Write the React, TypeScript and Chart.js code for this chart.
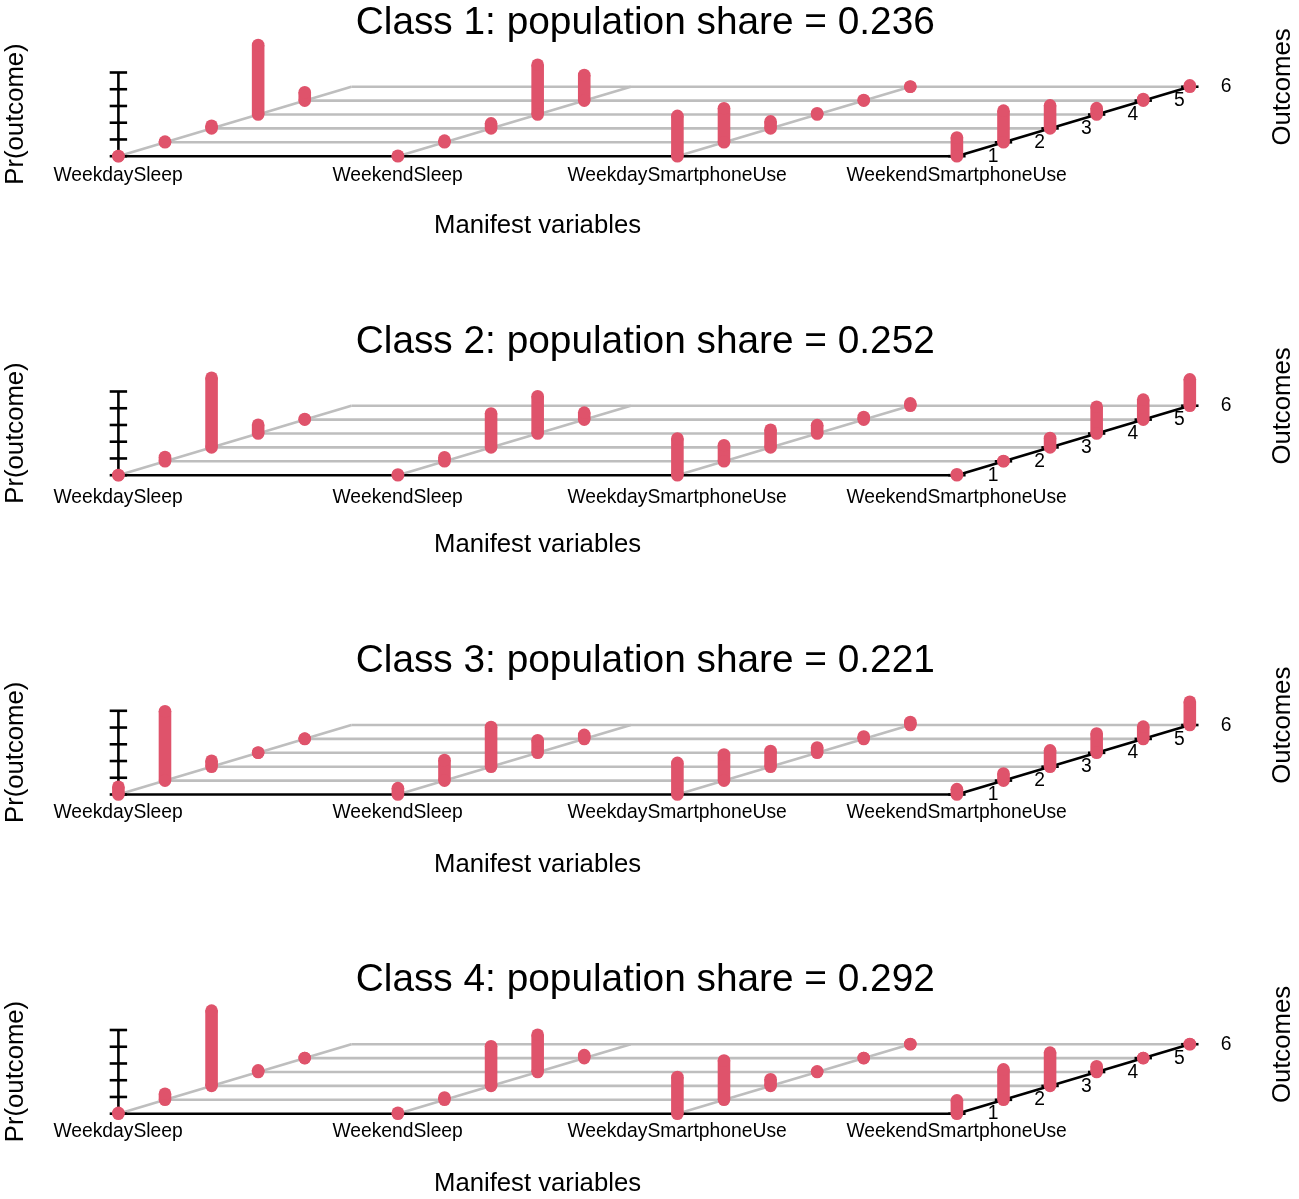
import React, { useEffect, useRef } from "react";
import { Chart, registerables } from "chart.js";

Chart.register(...registerables);

const variables = ["WeekdaySleep", "WeekendSleep", "WeekdaySmartphoneUse", "WeekendSmartphoneUse"];
const outcomeLabels = ["1", "2", "3", "4", "5", "6"];
const probTicks = [0, 0.2, 0.4, 0.6, 0.8, 1];
const populationShares = ["0.236", "0.252", "0.221", "0.292"];

const class1WeekdaySleep = [0.003, 0.008, 0.032, 0.83, 0.1];
const class1WeekendSleep = [0.005, 0.02, 0.06, 0.594, 0.307];
const class1WeekdayPhone = [0.482, 0.406, 0.084, 0.016, 0.008, 0.002];
const class1WeekendPhone = [0.223, 0.378, 0.275, 0.076, 0.02, 0.016];

const class2WeekdaySleep = [0.002, 0.052, 0.833, 0.104, 0.008];
const class2WeekendSleep = [0.008, 0.048, 0.406, 0.446, 0.084];
const class2WeekdayPhone = [0.438, 0.191, 0.211, 0.1, 0.032, 0.028];
const class2WeekendPhone = [0.012, 0.004, 0.112, 0.319, 0.239, 0.315];

const class3WeekdaySleep = [0.092, 0.829, 0.072, 0.003, 0.004];
const class3WeekendSleep = [0.076, 0.247, 0.474, 0.151, 0.048];
const class3WeekdayPhone = [0.378, 0.311, 0.187, 0.064, 0.028, 0.036];
const class3WeekendPhone = [0.064, 0.084, 0.195, 0.231, 0.147, 0.279];

const class4WeekdaySleep = [0.01, 0.072, 0.9, 0.02, 0.001];
const class4WeekendSleep = [0.012, 0.028, 0.474, 0.446, 0.036];
const class4WeekdayPhone = [0.438, 0.47, 0.08, 0.008, 0.002, 0.002];
const class4WeekendPhone = [0.159, 0.363, 0.398, 0.068, 0.002, 0.002];

const classes = [
  [class1WeekdaySleep, class1WeekendSleep, class1WeekdayPhone, class1WeekendPhone],
  [class2WeekdaySleep, class2WeekendSleep, class2WeekdayPhone, class2WeekendPhone],
  [class3WeekdaySleep, class3WeekendSleep, class3WeekdayPhone, class3WeekendPhone],
  [class4WeekdaySleep, class4WeekendSleep, class4WeekdayPhone, class4WeekendPhone],
];

// layout
const WIDTH = 1299;
const HEIGHT = 319;
const panelTops = [0, 319, 638, 958];
const panelBases = [156.2, 156.2, 156.5, 155.7];
const labelDrops = [19.8, 22.3, 18.3, 18.3];
const ORIGIN_X = 118.4;
const VAR_PX = 279.5;
const PROB_PX = 83.7;
const DEPTH_STEP = 0.166; // height of one outcome row, in probability units
const TICK_HALF = 8.7 / VAR_PX;
const FONT = '"Liberation Sans", Arial, Helvetica, sans-serif';
const RED = "#DF536B";
const GREY = "#BEBEBE";

const px = (v: number, o: number) => v + o / 6;
const py = (o: number, p = 0) => o * DEPTH_STEP + p;

function segment(a: any, b: any, color: string, width: number, order: number) {
  return {
    type: "line",
    data: [a, b],
    borderColor: color,
    backgroundColor: color,
    borderWidth: width,
    pointRadius: 0,
    order,
    parsing: false,
  };
}

function buildDatasets(probs: number[][]) {
  const ds: any[] = [];
  // grey floor
  for (let o = 1; o < 6; o++) {
    ds.push(segment({ x: px(0, o), y: py(o) }, { x: px(3, o), y: py(o) }, GREY, 2.6, 3));
  }
  for (let v = 0; v < 3; v++) {
    ds.push(segment({ x: px(v, 0), y: py(0) }, { x: px(v, 5), y: py(5) }, GREY, 2.6, 3));
  }
  // black axes
  ds.push(segment({ x: px(0, 0), y: 0 }, { x: px(3, 0), y: 0 }, "#000", 2.6, 2));
  ds.push(segment({ x: px(3, 0), y: py(0) }, { x: px(3, 5), y: py(5) }, "#000", 2.6, 2));
  for (let o = 0; o < 6; o++) {
    ds.push(
      segment(
        { x: px(3, o) - TICK_HALF, y: py(o) },
        { x: px(3, o) + TICK_HALF, y: py(o) },
        "#000",
        2.6,
        2
      )
    );
  }
  ds.push(segment({ x: 0, y: 0 }, { x: 0, y: 1 }, "#000", 2.6, 2));
  probTicks.forEach((t) => {
    ds.push(segment({ x: -TICK_HALF, y: t }, { x: TICK_HALF, y: t }, "#000", 2.6, 2));
  });
  // probability bars
  probs.forEach((row, v) => {
    row.forEach((p, o) => {
      ds.push({
        type: "line",
        data: [
          { x: px(v, o), y: py(o) },
          { x: px(v, o), y: py(o, p) },
        ],
        borderColor: RED,
        backgroundColor: RED,
        borderWidth: 12.6,
        pointRadius: 6.3,
        pointBorderWidth: 0,
        pointBackgroundColor: RED,
        order: 1,
        parsing: false,
      });
    });
  });
  return ds;
}

function textPlugin(index: number) {
  return {
    id: "labels" + index,
    afterDatasetsDraw(chart: any) {
      const { ctx, scales } = chart;
      const X = scales.x;
      const Y = scales.y;
      const base = Y.getPixelForValue(0);
      const put = (t: string, x: number, y: number, size: number, rot = 0) => {
        ctx.save();
        ctx.translate(x, y);
        ctx.rotate(rot);
        ctx.font = `${size}px ${FONT}`;
        ctx.fillStyle = "#000";
        ctx.textAlign = "center";
        ctx.textBaseline = "middle";
        ctx.fillText(t, 0, 0);
        ctx.restore();
      };
      put(`Class ${index + 1}: population share = ${populationShares[index]}`, 645.3, base - 133.3, 38.8);
      variables.forEach((name, v) => {
        put(name, X.getPixelForValue(px(v, 0)) - 0.3, base + labelDrops[index], 19.3);
      });
      outcomeLabels.forEach((lab, o) => {
        put(lab, X.getPixelForValue(px(3, o)) + 36.2, Y.getPixelForValue(py(o)) + 0.3, 19.3);
      });
      put("Manifest variables", 537.5, base + 70, 25.7);
      put("Pr(outcome)", 15.5, base - 42.2, 25.7, -Math.PI / 2);
      put("Outcomes", 1283, base - 69.2, 25.7, -Math.PI / 2);
    },
  };
}

function Panel({ index }: { index: number }) {
  const ref = useRef<HTMLCanvasElement | null>(null);
  useEffect(() => {
    const base = panelBases[index];
    const chart = new Chart(ref.current as HTMLCanvasElement, {
      type: "line",
      data: { datasets: buildDatasets(classes[index]) as any },
      plugins: [textPlugin(index)],
      options: {
        animation: false,
        responsive: false,
        devicePixelRatio: 1,
        layout: { padding: 0, autoPadding: false },
        plugins: { legend: { display: false }, title: { display: false }, tooltip: { enabled: false } },
        scales: {
          x: {
            type: "linear",
            display: false,
            min: -ORIGIN_X / VAR_PX,
            max: (WIDTH - ORIGIN_X) / VAR_PX,
          },
          y: {
            type: "linear",
            display: false,
            min: (base - HEIGHT) / PROB_PX,
            max: base / PROB_PX,
          },
        },
      },
    } as any);
    return () => chart.destroy();
  }, [index]);
  return (
    <canvas
      ref={ref}
      width={WIDTH}
      height={HEIGHT}
      style={{ position: "absolute", left: 0, top: panelTops[index], display: "block" }}
    />
  );
}

export default function App() {
  return (
    <div style={{ position: "absolute", left: 0, top: 0, width: WIDTH, height: 1199, overflow: "hidden", background: "#fff" }}>
      {classes.map((_, i) => (
        <Panel key={i} index={i} />
      ))}
    </div>
  );
}
